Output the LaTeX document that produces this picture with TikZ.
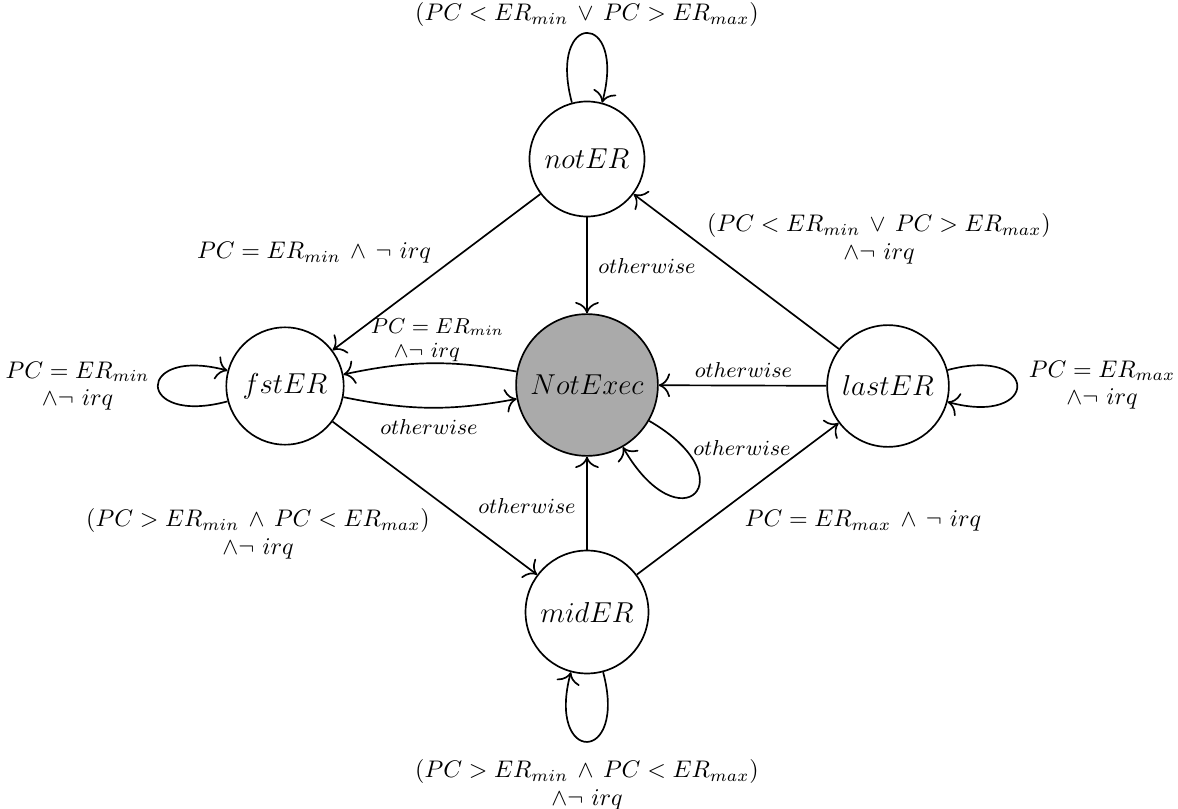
\documentclass[tikz,border=0pt]{standalone}
\usetikzlibrary{arrows.meta}
\begin{document}
\begin{tikzpicture}[x=0.4167pt, y=0.4167pt,
  fsm/.style={circle, draw, line width=0.7pt, inner sep=4.7pt,
    font=\fontsize{12.3}{14}\selectfont},
  edgeline/.style={-{To[scale=1.5]}, line width=0.7pt},
  selfloop/.style={distance=40pt},
  cond/.style={inner sep=0pt, align=center, font=\fontsize{10}{11.4}\selectfont},
  condsmall/.style={inner sep=0pt, align=center, font=\fontsize{8.9}{10.2}\selectfont},
  other/.style={inner sep=0pt, font=\fontsize{9.4}{11}\selectfont}]
\useasboundingbox (0,0) rectangle (1178,-809);

% states
\node[fsm] (notER) at (587,-159) {$notER$};
\node[fsm] (fstER) at (285,-386) {$fstER$};
\node[fsm, fill={rgb,255:red,170;green,170;blue,170}] (NotExec) at (587,-385) {$NotExec$};
\node[fsm] (lastER) at (888,-386) {$lastER$};
\node[fsm] (midER) at (587,-612) {$midER$};

% transitions
\path[edgeline]
  (notER) edge[selfloop, out=105, in=75] (notER)
  (notER) edge (fstER)
  (notER) edge (NotExec)
  (lastER) edge (notER)
  (NotExec) edge[bend right=11] (fstER)
  (fstER) edge[bend right=11] (NotExec)
  (fstER) edge[selfloop, out=195, in=165] (fstER)
  (lastER) edge (NotExec)
  (lastER) edge[selfloop, out=15, in=-15] (lastER)
  (NotExec) edge[out=-30, in=-60, distance=48pt] (NotExec)
  (fstER) edge (midER)
  (midER) edge (NotExec)
  (midER) edge (lastER)
  (midER) edge[selfloop, out=285, in=255] (midER);

% guards
\node[cond] (gTop) at (587,-15) {$(PC < ER_{min} \,\vee\, PC > ER_{max})$};
\node[cond] (gNotFst) at (314,-253) {$PC = ER_{min} \,\wedge\, \neg\ irq$};
\node[other] (gNotExec) at (647,-266) {$otherwise$};
\node[cond] (gLastNot) at (879,-239) {$(PC < ER_{min} \,\vee\, PC > ER_{max})$\\$\wedge\neg\ irq$};
\node[condsmall] (gExecFst) at (437.5,-340) {$PC = ER_{min}$\\$\wedge\neg\ irq\quad$};
\node[other] (gFstExec) at (429,-427) {$otherwise$};
\node[other] (gLastExec) at (743.5,-370) {$otherwise$};
\node[other] (gExecLoop) at (742,-448) {$otherwise$};
\node[cond] (gFstLoop) at (77.5,-386) {$PC = ER_{min}$\\$\wedge\neg\ irq$};
\node[cond] (gLastLoop) at (1102,-385) {$PC = ER_{max}$\\$\wedge\neg\ irq$};
\node[cond] (gFstMid) at (258,-534) {$(PC > ER_{min} \,\wedge\, PC < ER_{max})$\\$\wedge\neg\ irq$};
\node[other] (gMidExec) at (527,-506) {$otherwise$};
\node[cond] (gMidLast) at (863,-521) {$PC = ER_{max} \,\wedge\, \neg\ irq$};
\node[cond] (gMidLoop) at (587,-785) {$(PC > ER_{min} \,\wedge\, PC < ER_{max})$\\$\wedge\neg\ irq$};
\end{tikzpicture}
\end{document}
